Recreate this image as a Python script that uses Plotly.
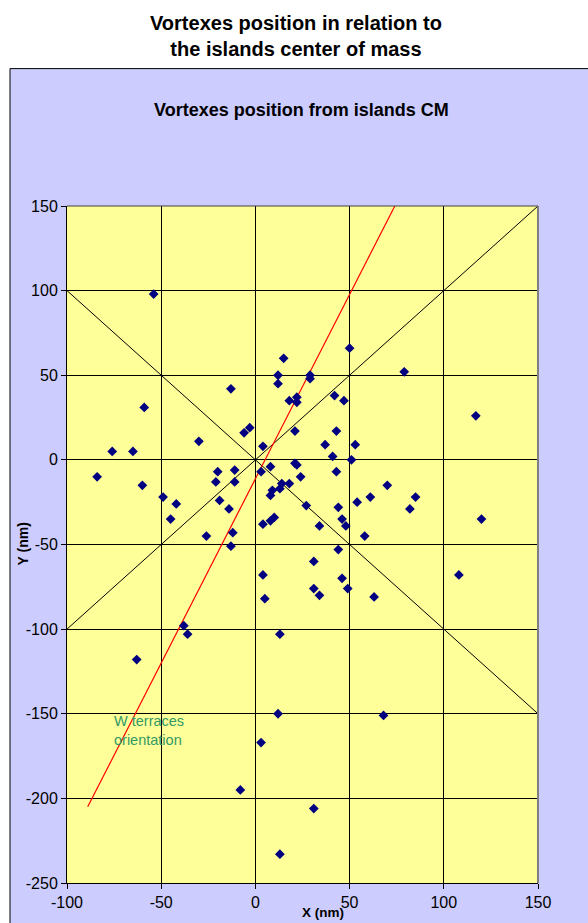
import plotly.graph_objects as go

# ---- data (nm) ----
vx = [-54, 15, 12, 12, -13, -59, 18, 22, 22, 21, -3, -6, -30, 4, -76, -65, -84, -60,
      -20, -11, -21, -11, 3, 8, 21, 22, 24, 14, 18, 13, 9, 8, -19, -14, -49, -42, -45,
      4, 10, 8, 27, 50, 29, 29, 79, 42, 47, 117, 43, 37, 53, 41, 51, 43, 70, 61, 85,
      82, 54, 44, 120, 46, 48, 34, -12, -26, -13, 4, 5, -38, -36, -63, 13, 12, 3, 58,
      44, 31, 46, 108, 31, 34, 49, 63, 68, -8, 31, 13]
vy = [98, 60, 50, 45, 42, 31, 35, 37, 34, 17, 19, 16, 11, 8, 5, 5, -10, -15,
      -7, -6, -13, -13, -7, -4, -2, -3, -10, -14, -14, -17, -18, -21, -24, -29, -22, -26, -35,
      -38, -34, -36, -27, 66, 50, 48, 52, 38, 35, 26, 17, 9, 9, 2, 0, -7, -15, -22, -22,
      -29, -25, -28, -35, -35, -39, -39, -43, -45, -51, -68, -82, -98, -103, -118, -103, -150, -167, -45,
      -53, -60, -70, -68, -76, -80, -76, -81, -151, -195, -206, -233]

diag1_x = [-100, 150]
diag1_y = [100, -150]
diag2_x = [-100, 150]
diag2_y = [-100, 150]
red_x = [-89, 74]
red_y = [-205, 150]

x_ticks = [-100, -50, 0, 50, 100, 150]
x_tick_labels = ["-100", "-50", "0", "50", "100", "150"]
y_ticks = [-250, -200, -150, -100, -50, 0, 50, 100, 150]
y_tick_labels = ["-250", "-200", "-150", "-100", "-50", "0", "50", "100", "150"]

FONT = "Liberation Sans, Arial, Helvetica, sans-serif"

fig = go.Figure()
fig.add_trace(go.Scatter(x=diag1_x, y=diag1_y, mode="lines",
                         line=dict(color="black", width=1), hoverinfo="skip"))
fig.add_trace(go.Scatter(x=diag2_x, y=diag2_y, mode="lines",
                         line=dict(color="black", width=1), hoverinfo="skip"))
fig.add_trace(go.Scatter(x=red_x, y=red_y, mode="lines",
                         line=dict(color="#ff0000", width=1.2), hoverinfo="skip"))
fig.add_trace(go.Scatter(x=vx, y=vy, mode="markers",
                         marker=dict(symbol="diamond", size=7.5, color="#000080",
                                     line=dict(width=0))))

# plot geometry in px
L, R, T, B = 67, 50, 206, 37
W, H = 588, 923
pw, ph = W - L - R, H - T - B


def px2paper_x(px):
    return (px - L) / pw


def px2paper_y(py):
    return (H - B - py) / ph


shapes = [
    dict(type="rect", xref="paper", yref="paper", layer="below",
         x0=px2paper_x(10), x1=px2paper_x(620), y0=px2paper_y(960), y1=px2paper_y(68),
         fillcolor="#CCCCFF", line=dict(color="black", width=1)),
    dict(type="rect", xref="paper", yref="paper", layer="below",
         x0=0, x1=1, y0=0, y1=1, fillcolor="#FFFF99", line=dict(width=0)),
    dict(type="line", xref="paper", yref="paper", layer="above",
         x0=1, x1=1, y0=0, y1=1, line=dict(color="#808080", width=2)),
    dict(type="line", xref="paper", yref="paper", layer="above",
         x0=0, x1=1, y0=1, y1=1, line=dict(color="#404040", width=1)),
]

annotations = [
    dict(text="<b>Vortexes position in relation to<br>the islands center of mass</b>",
         xref="paper", yref="paper", x=px2paper_x(296), y=px2paper_y(35),
         xanchor="center", yanchor="middle", showarrow=False,
         font=dict(family=FONT, size=20, color="black")),
    dict(text="<b>Vortexes position from islands CM</b>",
         xref="paper", yref="paper", x=px2paper_x(301), y=px2paper_y(110),
         xanchor="center", yanchor="middle", showarrow=False,
         font=dict(family=FONT, size=18, color="black")),
    dict(text="<b>Y (nm)</b>", textangle=-90,
         xref="paper", yref="paper", x=px2paper_x(22), y=px2paper_y(546),
         xanchor="center", yanchor="middle", showarrow=False,
         font=dict(family=FONT, size=14, color="black")),
    dict(text="<b>X (nm)</b>",
         xref="paper", yref="paper", x=px2paper_x(323), y=px2paper_y(916),
         xanchor="center", yanchor="middle", showarrow=False,
         font=dict(family=FONT, size=13.5, color="black")),
    dict(text="W terraces<br>orientation", align="left",
         xref="x", yref="y", x=-76, y=-160,
         xanchor="left", yanchor="middle", showarrow=False,
         font=dict(family=FONT, size=14.5, color="#339966")),
]

axis_common = dict(showgrid=True, gridcolor="black", gridwidth=1, zeroline=False,
                   showline=True, linecolor="black", linewidth=1,
                   ticks="outside", ticklen=5, tickcolor="black", tickwidth=1,
                   tickfont=dict(family=FONT, size=16, color="black"))

fig.update_layout(
    width=W, height=H,
    margin=dict(l=L, r=R, t=T, b=B, pad=0),
    paper_bgcolor="white", plot_bgcolor="rgba(0,0,0,0)",
    showlegend=False,
    shapes=shapes, annotations=annotations,
    xaxis=dict(range=[-100, 150], tickmode="array", tickvals=x_ticks,
               ticktext=x_tick_labels, **axis_common),
    yaxis=dict(range=[-250, 150], tickmode="array", tickvals=y_ticks,
               ticktext=y_tick_labels, **axis_common),
)

fig.write_html(
    "out.html",
    config={"displayModeBar": False},
    post_script="document.body.style.margin='0';document.body.style.overflow='hidden';",
)
